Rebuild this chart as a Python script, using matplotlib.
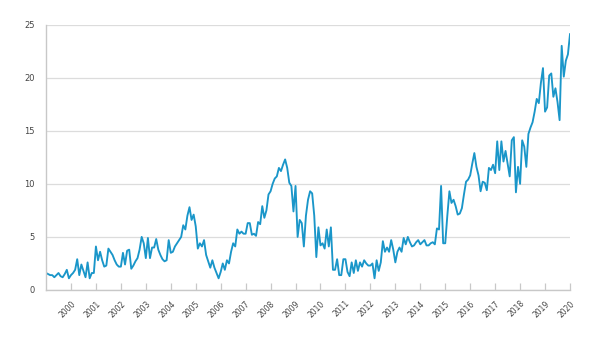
import numpy as np
import matplotlib
matplotlib.use("Agg")
import matplotlib.pyplot as plt
from matplotlib.transforms import ScaledTranslation

# Monthly values, Jan 1999 .. Jan 2020
vals_1999 = [1.6, 1.5, 1.4, 1.4, 1.2, 1.4, 1.6, 1.3, 1.2, 1.5, 1.9, 1.1]
vals_2000 = [1.4, 1.6, 1.9, 2.9, 1.4, 2.4, 1.8, 1.2, 2.6, 1.1, 1.6, 1.6]
vals_2001 = [4.1, 2.8, 3.6, 2.8, 2.2, 2.3, 3.9, 3.6, 3.3, 2.8, 2.4, 2.2]
vals_2002 = [2.2, 3.5, 2.4, 3.7, 3.8, 2.0, 2.3, 2.7, 3.0, 3.8, 5.0, 4.4]
vals_2003 = [3.0, 4.9, 3.0, 4.0, 4.0, 4.8, 3.8, 3.3, 2.9, 2.7, 2.8, 4.7]
vals_2004 = [3.5, 3.6, 4.1, 4.4, 4.7, 5.0, 6.1, 5.7, 7.0, 7.8, 6.6, 7.1]
vals_2005 = [6.0, 3.9, 4.4, 4.1, 4.7, 3.3, 2.7, 2.1, 2.8, 2.1, 1.6, 1.1]
vals_2006 = [1.7, 2.5, 1.9, 2.8, 2.5, 3.6, 4.4, 4.1, 5.7, 5.3, 5.5, 5.3]
vals_2007 = [5.3, 6.3, 6.3, 5.2, 5.3, 5.1, 6.4, 6.2, 7.9, 6.8, 7.5, 9.0]
vals_2008 = [9.3, 10.0, 10.5, 10.7, 11.5, 11.2, 11.8, 12.3, 11.5, 10.1, 9.8, 7.4]
vals_2009 = [9.8, 5.0, 6.6, 6.3, 4.1, 7.0, 8.5, 9.3, 9.1, 7.0, 3.1, 5.9]
vals_2010 = [4.2, 4.4, 3.9, 5.7, 4.1, 5.9, 1.9, 1.9, 2.9, 1.4, 1.4, 2.9]
vals_2011 = [2.9, 1.7, 1.3, 2.6, 1.6, 2.8, 1.8, 2.6, 2.2, 2.8, 2.5, 2.3]
vals_2012 = [2.3, 2.5, 1.1, 2.8, 1.8, 2.6, 4.6, 3.6, 4.0, 3.6, 4.7, 3.8]
vals_2013 = [2.6, 3.6, 4.0, 3.6, 4.9, 4.3, 5.0, 4.5, 4.1, 4.2, 4.5, 4.7]
vals_2014 = [4.3, 4.5, 4.7, 4.2, 4.2, 4.4, 4.5, 4.3, 5.8, 5.7, 9.8, 4.4]
vals_2015 = [4.4, 7.0, 9.3, 8.2, 8.5, 7.9, 7.1, 7.2, 7.7, 9.0, 10.2, 10.4]
vals_2016 = [10.8, 11.9, 12.9, 11.6, 10.8, 9.3, 10.2, 10.1, 9.4, 11.5, 11.3, 11.8]
vals_2017 = [11.0, 14.0, 11.3, 14.0, 12.1, 13.1, 11.9, 10.7, 14.1, 14.4, 9.2, 11.6]
vals_2018 = [10.0, 14.1, 13.5, 11.6, 14.7, 15.3, 15.8, 16.8, 18.0, 17.6, 19.5, 20.9]
vals_2019 = [16.8, 17.2, 20.2, 20.4, 18.2, 19.0, 17.7, 16.0, 23.0, 20.1, 21.6, 22.2]
vals_2020 = [24.1]

values = (vals_1999 + vals_2000 + vals_2001 + vals_2002 + vals_2003 + vals_2004
          + vals_2005 + vals_2006 + vals_2007 + vals_2008 + vals_2009 + vals_2010
          + vals_2011 + vals_2012 + vals_2013 + vals_2014 + vals_2015 + vals_2016
          + vals_2017 + vals_2018 + vals_2019 + vals_2020)
years = list(range(2000, 2021))
y_ticks = [0, 5, 10, 15, 20, 25]

x = 1999 + np.arange(len(values)) / 12.0

fig = plt.figure(figsize=(6, 3.37), dpi=100)
ax = fig.add_axes([0.0767, 0.1395, 0.8733, 0.7875])

ax.plot(x, values, color="#1a96c9", linewidth=1.35)

ax.set_xlim(1999, 2020)
ax.set_ylim(0, 25)
ax.set_yticks(y_ticks)
ax.set_yticklabels([str(v) for v in y_ticks], fontsize=6, color="#444444")
ax.set_xticks(years)
ax.set_xticklabels([str(y) for y in years], fontsize=5.5, color="#444444",
                   rotation=45, ha="right", va="top", rotation_mode="anchor")

# nudge the rotated year labels a little to the left of their ticks
shift = ScaledTranslation(-5 / 100, 0, fig.dpi_scale_trans)
for lbl in ax.get_xticklabels():
    lbl.set_transform(lbl.get_transform() + shift)

ax.grid(axis="y", color="#dcdcdc", linewidth=0.9)
ax.set_axisbelow(True)
for side in ["top", "right"]:
    ax.spines[side].set_visible(False)
for side in ["left", "bottom"]:
    ax.spines[side].set_color("#c8c8c8")
    ax.spines[side].set_linewidth(1.0)
ax.tick_params(axis="y", length=0, pad=8)
ax.tick_params(axis="x", direction="in", length=5, width=0.9, color="#c8c8c8", pad=6.5)

fig.savefig("out.png", dpi=100)
